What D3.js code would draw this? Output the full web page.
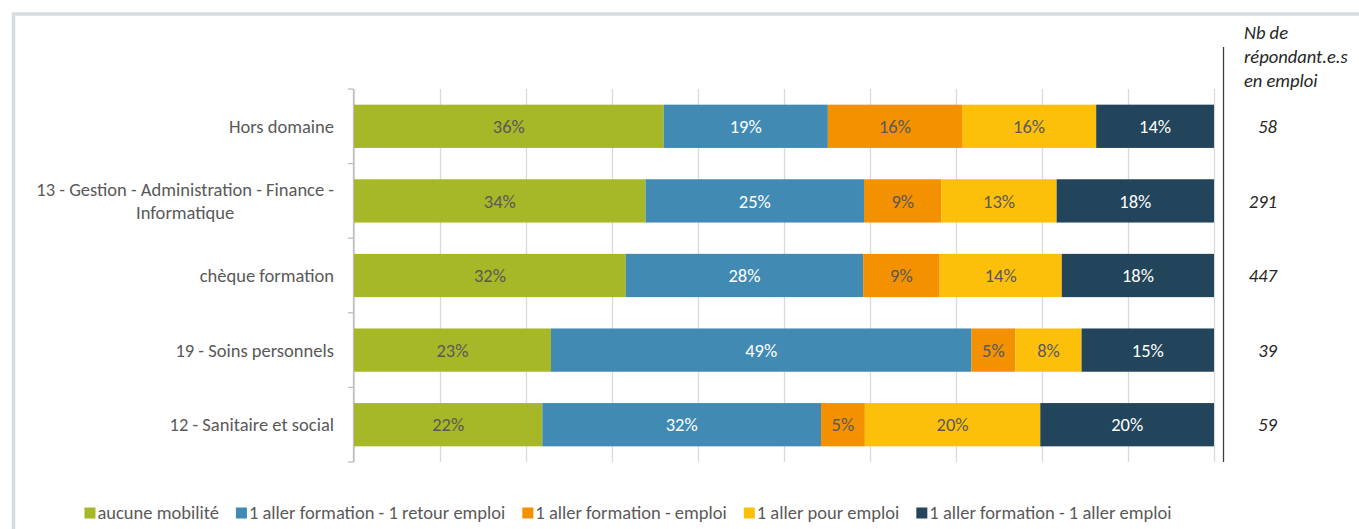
<!DOCTYPE html>
<html>
<head>
<meta charset="utf-8">
<script src="https://cdn.jsdelivr.net/npm/d3@7"></script>
<style>
  body { margin: 0; background: #fff; }
  svg { display: block; }
  text { font-family: Carlito, Lato, "Liberation Sans", sans-serif; }
</style>
</head>
<body>
<svg id="chart" width="1359" height="529"></svg>
<script>
// Training domains (lines split with "\n")
const categories = [
  "Hors domaine",
  "13 - Gestion - Administration - Finance -\nInformatique",
  "chèque formation",
  "19 - Soins personnels",
  "12 - Sanitaire et social"
];

// Mobility types, in stacking order
const seriesNames = [
  "aucune mobilité",
  "1 aller formation - 1 retour emploi",
  "1 aller formation - emploi",
  "1 aller pour emploi",
  "1 aller formation - 1 aller emploi"
];

// Shares (%) per domain, one array per mobility type
const aucuneMobilite      = [36.0, 33.9, 31.6, 22.9, 21.9];
const allerFormRetourEmp  = [19.1, 25.4, 27.6, 48.9, 32.4];
const allerFormEmploi     = [15.6,  9.0,  8.9,  5.1,  5.1];
const allerPourEmploi     = [15.6, 13.4, 14.2,  7.7, 20.4];
const allerFormAllerEmp   = [13.7, 18.3, 17.7, 15.4, 20.2];

// Number of respondents in employment per domain
const respondents = [58, 291, 447, 39, 59];

const headerLines = ["Nb de", "répondant.e.s", "en emploi"];

const seriesValues = [aucuneMobilite, allerFormRetourEmp, allerFormEmploi, allerPourEmploi, allerFormAllerEmp];
const colors = ["#a6b727", "#418ab3", "#f49100", "#fdc00a", "#22455b"];
const labelColors = ["#595959", "#ffffff", "#595959", "#595959", "#ffffff"];

const FS = 18.5;

const svg = d3.select("#chart");

// outer frame
svg.append("rect")
  .attr("x", 13.5).attr("y", 14)
  .attr("width", 1400).attr("height", 600)
  .attr("fill", "none").attr("stroke", "#d6dde2").attr("stroke-width", 3.5);

const plot = { left: 354, right: 1214, top: 89, bottom: 462 };

const x = d3.scaleLinear().domain([0, 1]).range([plot.left, plot.right]);
const y = d3.scaleBand().domain(categories)
  .range([plot.top, plot.bottom])
  .paddingInner(0.42).paddingOuter(0.21);

// vertical gridlines
const grid = svg.append("g")
  .attr("transform", `translate(0,${plot.bottom})`)
  .call(d3.axisBottom(x)
    .tickValues(d3.range(0, 11).map(d => d / 10))
    .tickSize(-(plot.bottom - plot.top))
    .tickFormat(""));
grid.select(".domain").remove();
grid.selectAll(".tick line").attr("stroke", "#d9d9d9").attr("stroke-width", 1.3);

// left category axis with separators between bands
const step = y.step();
svg.append("line")
  .attr("x1", plot.left - 0.5).attr("x2", plot.left - 0.5)
  .attr("y1", plot.top).attr("y2", plot.bottom)
  .attr("stroke", "#bfbfbf").attr("stroke-width", 1.3);
svg.append("g").selectAll("line")
  .data(d3.range(categories.length + 1))
  .join("line")
  .attr("x1", plot.left - 6).attr("x2", plot.left - 0.5)
  .attr("y1", i => plot.top + i * step).attr("y2", i => plot.top + i * step)
  .attr("stroke", "#bfbfbf").attr("stroke-width", 1.3);

// category labels
const catLabels = svg.append("g");
categories.forEach(c => {
  const lines = c.split("\n");
  const cy = y(c) + y.bandwidth() / 2;
  const lh = 23;
  const t = catLabels.append("text")
    .attr("text-anchor", "end")
    .attr("font-size", FS)
    .attr("fill", "#595959");
  lines.forEach((ln, i) => {
    t.append("tspan")
      .attr("x", 334)
      .attr("y", cy + (i - (lines.length - 1) / 2) * lh)
      .attr("dy", "0.35em")
      .text(ln);
  });
  if (lines.length > 1) {
    // second line centred under the first
    const w0 = t.select("tspan").node().getComputedTextLength();
    t.selectAll("tspan").filter((d, i) => i > 0)
      .attr("text-anchor", "middle").attr("x", 334 - w0 / 2);
  }
});

// stacked data
const rows = categories.map((c, i) => {
  const r = { category: c };
  seriesNames.forEach((s, j) => { r[s] = seriesValues[j][i] / 100; });
  return r;
});
const stacked = d3.stack().keys(seriesNames)(rows);

const layers = svg.append("g").selectAll("g")
  .data(stacked)
  .join("g")
  .attr("fill", (d, i) => colors[i]);

layers.selectAll("rect")
  .data(d => d)
  .join("rect")
  .attr("x", d => x(d[0]))
  .attr("y", d => y(d.data.category))
  .attr("width", d => x(d[1]) - x(d[0]))
  .attr("height", y.bandwidth());

const fmt = d3.format(".0%");
stacked.forEach((layer, i) => {
  svg.append("g").selectAll("text")
    .data(layer)
    .join("text")
    .attr("x", d => (x(d[0]) + x(d[1])) / 2)
    .attr("y", d => y(d.data.category) + y.bandwidth() / 2)
    .attr("dy", "0.36em")
    .attr("text-anchor", "middle")
    .attr("font-size", FS)
    .attr("fill", labelColors[i])
    .text(d => fmt(d[1] - d[0]));
});

// respondents column
svg.append("line")
  .attr("x1", 1223.5).attr("x2", 1223.5)
  .attr("y1", 47).attr("y2", plot.bottom)
  .attr("stroke", "#404040").attr("stroke-width", 1.3);

const header = svg.append("text")
  .attr("font-size", FS).attr("font-style", "italic").attr("fill", "#262626");
headerLines.forEach((ln, i) => {
  header.append("tspan").attr("x", 1244).attr("y", 39 + i * 24).text(ln);
});

svg.append("g").selectAll("text")
  .data(respondents)
  .join("text")
  .attr("x", 1277)
  .attr("y", (d, i) => y(categories[i]) + y.bandwidth() / 2)
  .attr("dy", "0.36em")
  .attr("text-anchor", "end")
  .attr("font-size", FS).attr("font-style", "italic").attr("fill", "#262626")
  .text(d => d);

// legend
const legend = svg.append("g").attr("transform", "translate(0,513)");
const items = legend.selectAll("g").data(seriesNames).join("g");
items.append("rect")
  .attr("x", 0).attr("y", -5.5).attr("width", 11).attr("height", 11)
  .attr("fill", (d, i) => colors[i]);
items.append("text")
  .attr("x", 13).attr("dy", "0.35em")
  .attr("font-size", FS).attr("fill", "#595959")
  .text(d => d);
let lx = 0;
const gap = 17;
items.each(function () {
  const w = d3.select(this).select("text").node().getComputedTextLength();
  d3.select(this).attr("data-x", lx);
  lx += 13 + w + gap;
});
const total = lx - gap;
const startX = 628 - total / 2;
items.attr("transform", function () {
  return `translate(${startX + (+this.getAttribute("data-x"))},0)`;
});
</script>
</body>
</html>
